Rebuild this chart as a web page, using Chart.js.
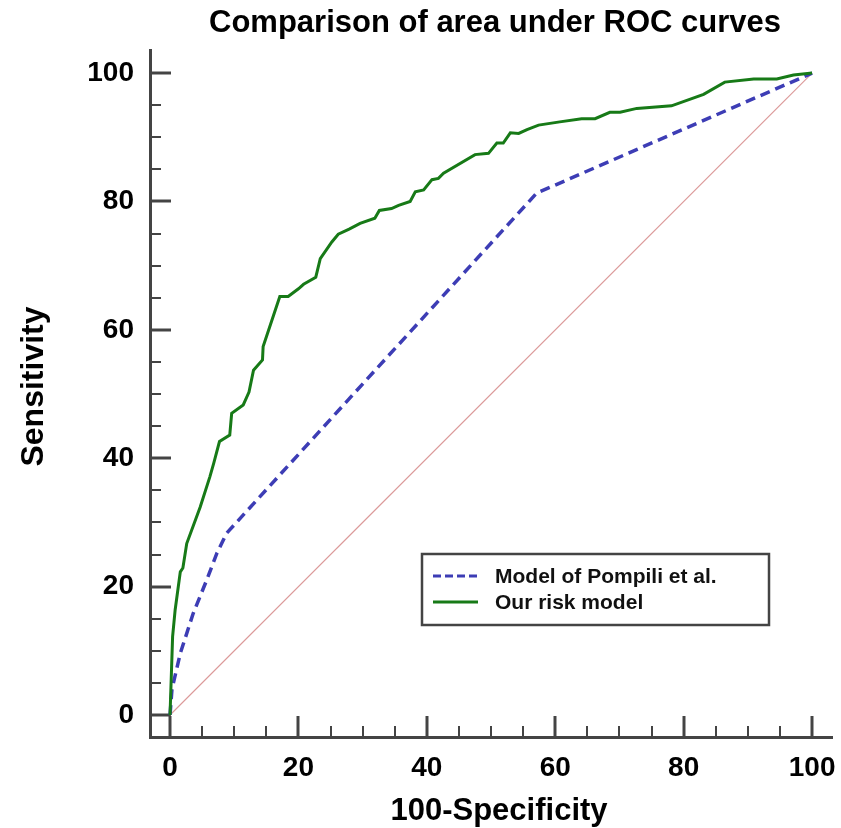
<!DOCTYPE html>
<html>
<head>
<meta charset="utf-8">
<title>Comparison of area under ROC curves</title>
<script src="https://cdn.jsdelivr.net/npm/chart.js@4.4.1/dist/chart.umd.min.js"></script>
<style>
    html, body { margin: 0; padding: 0; background: #fff; }
    #roc-wrap { position: relative; width: 841px; height: 828px; }
</style>
</head>
<body>
<div id="roc-wrap"><canvas id="roc-chart"></canvas></div>
<script>
// 100-Specificity (x) and Sensitivity (y)
var ourFpr = [ 0, 0.4, 0.8, 1.6, 2.0, 2.6, 4.7, 6.2, 6.8, 7.7, 9.3, 9.6, 11.4, 12.3, 13.0, 14.4, 14.5, 15.1,
    17.1, 18.4, 20.0, 20.8, 22.7, 23.4, 25.2, 26.2, 27.9, 29.6, 31.9, 32.6, 34.5, 35.6, 37.4, 38.2, 39.5,
    40.8, 41.8, 42.6, 47.5, 49.6, 50.9, 51.9, 53.0, 54.3, 55.6, 57.4, 60.7, 64.1, 66.2, 68.5, 70.1, 72.7,
    78.1, 83.1, 86.4, 90.9, 94.5, 97.1, 100 ];
var ourTpr = [ 0, 12.2, 16.4, 22.3, 22.9, 26.7, 32.4, 37.1, 39.2, 42.6, 43.6, 47.0, 48.3, 50.3, 53.7, 55.3, 57.4, 59.2,
    65.2, 65.2, 66.4, 67.1, 68.2, 71.1, 73.7, 74.9, 75.7, 76.6, 77.4, 78.6, 78.9, 79.4, 80.0, 81.5, 81.8,
    83.4, 83.6, 84.4, 87.3, 87.5, 89.1, 89.1, 90.7, 90.6, 91.2, 91.9, 92.4, 92.9, 92.9, 93.9, 93.9, 94.5,
    94.9, 96.7, 98.6, 99.1, 99.1, 99.7, 100 ];

var pompiliFpr = [ 0, 0.3, 1.6, 3.6, 5.7, 7.3, 8.8, 57.1, 100 ];
var pompiliTpr = [ 0, 4.0, 9.6, 15.8, 21.0, 25.2, 28.3, 81.3, 100 ];

var chanceFpr = [ 0, 100 ];
var chanceTpr = [ 0, 100 ];

var majorTicks = [ 0, 20, 40, 60, 80, 100 ];
var seriesLabels = [ 'Model of Pompili et al.', 'Our risk model' ];

( function () {
    'use strict';

    var FONT = '"Liberation Sans", Arial, sans-serif';

    function toPoints( xs, ys ) {
        return xs.map( function ( x, i ) { return { x: x, y: ys[ i ] }; } );
    }

    // inward tick marks, titles and the boxed legend
    var rocFrame = {
        id: 'rocFrame',
        beforeDatasetsDraw: function ( chart ) {
            var ctx = chart.ctx;
            var area = chart.chartArea;
            var sx = chart.scales.x;
            var sy = chart.scales.y;
            ctx.save();
            ctx.strokeStyle = '#444';
            sx.ticks.forEach( function ( t ) {
                var major = majorTicks.indexOf( t.value ) !== -1;
                var px = Math.round( sx.getPixelForValue( t.value ) );
                ctx.lineWidth = major ? 3 : 2;
                ctx.beginPath();
                ctx.moveTo( px, area.bottom );
                ctx.lineTo( px, area.bottom - ( major ? 21 : 11 ) );
                ctx.stroke();
            } );
            sy.ticks.forEach( function ( t ) {
                var major = majorTicks.indexOf( t.value ) !== -1;
                var py = Math.round( sy.getPixelForValue( t.value ) );
                ctx.lineWidth = major ? 3 : 2;
                ctx.beginPath();
                ctx.moveTo( area.left, py );
                ctx.lineTo( area.left + ( major ? 21 : 11 ), py );
                ctx.stroke();
            } );
            ctx.restore();
        },
        afterDraw: function ( chart ) {
            var ctx = chart.ctx;
            var area = chart.chartArea;
            var midX = ( area.left + area.right ) / 2;
            ctx.save();

            ctx.fillStyle = '#000';
            ctx.textAlign = 'center';
            ctx.textBaseline = 'alphabetic';
            ctx.font = 'bold 31px ' + FONT;
            ctx.fillText( 'Comparison of area under ROC curves', midX + 4, 32 );
            ctx.fillText( '100-Specificity', midX + 8, 820 );

            ctx.save();
            ctx.translate( 43, ( area.top + area.bottom ) / 2 - 7 );
            ctx.rotate( -Math.PI / 2 );
            ctx.font = 'bold 32px ' + FONT;
            ctx.fillText( 'Sensitivity', 0, 0 );
            ctx.restore();

            var bx = area.left + 272, by = area.top + 504;
            ctx.strokeStyle = '#444';
            ctx.lineWidth = 2.5;
            ctx.strokeRect( bx, by, 347, 71 );

            var rows = chart.data.datasets.filter( function ( d ) { return d.label; } );
            ctx.font = 'bold 21px ' + FONT;
            ctx.textAlign = 'left';
            ctx.textBaseline = 'middle';
            rows.forEach( function ( d, i ) {
                var ry = by + 22 + i * 26;
                ctx.strokeStyle = d.borderColor;
                ctx.lineWidth = 3;
                ctx.setLineDash( d.borderDash ? [ 8, 4 ] : [] );
                ctx.beginPath();
                ctx.moveTo( bx + 11, ry );
                ctx.lineTo( bx + 56, ry );
                ctx.stroke();
                ctx.setLineDash( [] );
                ctx.fillStyle = '#111';
                ctx.fillText( d.label, bx + 73, ry + 1 );
            } );
            ctx.restore();
        },
    };

    var tickFont = { family: FONT, size: 28, weight: 'bold' };

    function majorLabel( v ) {
        return majorTicks.indexOf( v ) !== -1 ? String( v ) : '';
    }

    document.addEventListener( 'DOMContentLoaded', function () {
        var canvas = document.getElementById( 'roc-chart' );
        if ( ! canvas || ! window.Chart ) return;

        new Chart( canvas, {
            type: 'line',
            data: {
                datasets: [ {
                    label: seriesLabels[ 0 ],
                    data: toPoints( pompiliFpr, pompiliTpr ),
                    borderColor: '#3d3db5',
                    borderWidth: 3.5,
                    borderDash: [ 10, 6 ],
                    order: 2,
                }, {
                    label: seriesLabels[ 1 ],
                    data: toPoints( ourFpr, ourTpr ),
                    borderColor: '#177a17',
                    borderWidth: 3,
                    order: 1,
                }, {
                    label: '',
                    data: toPoints( chanceFpr, chanceTpr ),
                    borderColor: '#dc9a9a',
                    borderWidth: 1.2,
                    order: 3,
                } ],
            },
            options: {
                responsive: true,
                maintainAspectRatio: false,
                animation: false,
                layout: { padding: { top: 50, right: 9, left: 0, bottom: 0 } },
                elements: {
                    point: { radius: 0, hoverRadius: 0 },
                    line: { tension: 0, fill: false },
                },
                plugins: {
                    legend: { display: false },
                    tooltip: { enabled: false },
                },
                scales: {
                    x: {
                        type: 'linear',
                        min: -3.12,
                        max: 103.1,
                        grid: { display: false },
                        border: { display: true, color: '#444', width: 3 },
                        ticks: {
                            stepSize: 5,
                            autoSkip: false,
                            maxRotation: 0,
                            includeBounds: false,
                            color: '#000',
                            font: tickFont,
                            padding: 6,
                            callback: majorLabel,
                        },
                        afterFit: function ( scale ) {
                            scale.height = 91;
                            scale.paddingLeft = 0;
                            scale.paddingRight = 0;
                        },
                    },
                    y: {
                        type: 'linear',
                        min: -3.43,
                        max: 103.6,
                        grid: { display: false },
                        border: { display: true, color: '#444', width: 3 },
                        ticks: {
                            stepSize: 5,
                            autoSkip: false,
                            includeBounds: false,
                            color: '#000',
                            font: tickFont,
                            padding: 8,
                            callback: majorLabel,
                        },
                        afterFit: function ( scale ) {
                            scale.width = 150;
                            scale.paddingTop = 0;
                            scale.paddingBottom = 0;
                        },
                    },
                },
            },
            plugins: [ rocFrame ],
        } );
    } );
} )();
</script>
</body>
</html>
